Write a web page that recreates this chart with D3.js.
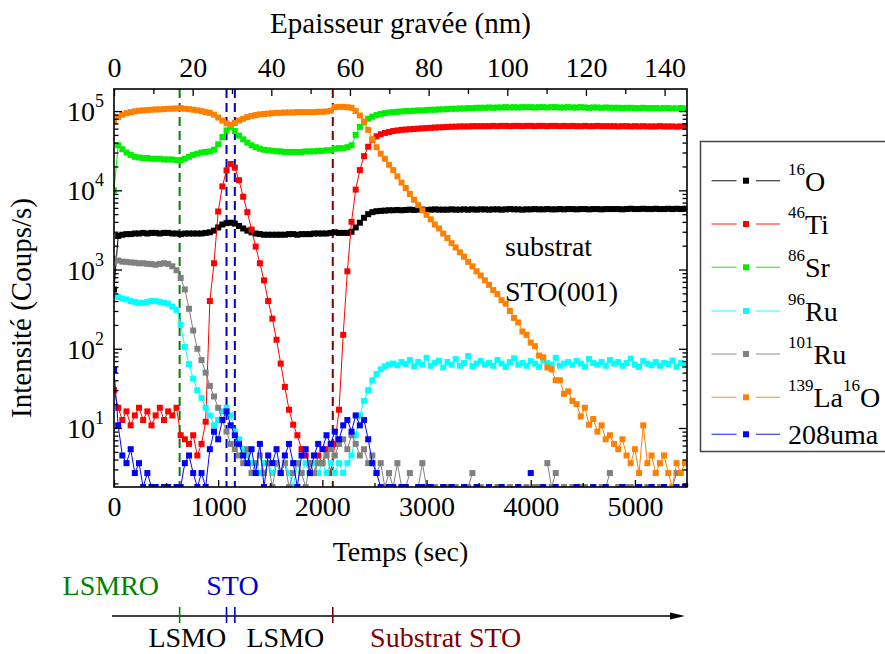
<!DOCTYPE html>
<html><head><meta charset="utf-8">
<script src="https://cdn.jsdelivr.net/npm/d3@7/dist/d3.min.js"></script>
<style>
body{margin:0;background:#fff}
svg text{font-family:"Liberation Serif","Tinos","DejaVu Serif",serif !important;}
</style>
</head><body>
<svg id="chart" width="885" height="654" font-family="Liberation Serif, DejaVu Serif, serif"></svg>
<script>
// ---------- DATA ----------
const timeStart = 0, timeStep = 40;      // s, acquisition interval
const timeMax = 5500;                    // s, right end of the time axis
const depthMax = 145.7;                  // nm, depth at the right end
const boundaryTimes = [630, 1080, 1160, 2100];   // s, interfaces
const boundaryColors = ["#008000", "#0000cc", "#0000cc", "#800000"];

const O16 = [
560,2650,2750,2800,2800,2850,2850,2900,2850,2900,
2900,2850,2900,2900,2850,2850,2800,2850,2850,2850,
2850,2850,2900,2950,3100,3400,3700,3850,3900,3800,
3550,3300,3100,2950,2850,2800,2750,2750,2750,2750,
2750,2750,2800,2800,2750,2800,2800,2800,2850,2850,
2850,2850,2900,2950,2900,2900,2900,3000,3400,3900,
4500,5000,5300,5450,5500,5550,5600,5600,5650,5600,
5650,5700,5650,5700,5700,5650,5700,5750,5700,5700,
5700,5750,5700,5700,5750,5700,5750,5700,5750,5750,
5700,5750,5750,5700,5750,5800,5750,5750,5700,5750,
5750,5800,5750,5750,5800,5750,5750,5800,5750,5800,
5800,5750,5800,5800,5750,5800,5800,5750,5800,5800,
5800,5800,5750,5800,5850,5800,5800,5850,5800,5800,
5850,5800,5800,5850,5800,5850,5800,5850];
const Ti46 = [
30,18,12.6,16.2,10.8,14.4,18,12.6,16.2,10.8,
14.4,18,12.6,16.2,14.4,18,8.1,7.2,6.3,8.1,
4.5,6.3,12,400,1200,5400,11200,17800,21500,19300,
13400,8300,5300,3200,1950,1200,730,400,240,130,
65,33,17,11,8.1,5.4,4.5,3.6,2.7,4.5,
3.6,5.4,2.7,6.3,17,150,950,4000,10200,18000,
27000,35500,43500,48000,51000,53000,54500,56000,57000,58000,
58500,59000,59500,60000,60500,61000,61500,62000,62300,62600,
63000,63500,63500,64000,64000,64000,64500,64500,64500,64500,
64500,65000,64500,65000,65000,64500,65000,65000,64500,65000,
65000,64500,65000,65000,64500,65000,65000,64500,65000,64500,
65000,64500,64500,65000,64500,64500,65000,64500,64500,64500,
64500,64000,64500,64500,64000,64500,64000,64500,64000,64000,
64000,64500,64000,64000,64000,63500,64000,64000];
const Sr86 = [
10000,37000,33000,30000,28000,26500,26000,25500,25500,25000,
25000,25000,24500,24500,24500,24000,24000,25000,26500,28000,
29000,30000,30500,31000,32500,38000,47000,57000,63000,56000,
49000,44000,40000,37000,35000,33500,32500,32000,31500,31000,
31000,30500,30500,30500,30500,30500,31000,31000,31000,31500,
31500,32000,32000,33500,34000,34000,35000,37000,50000,63000,
72000,80000,85000,89000,92000,94000,96000,97000,98000,99000,
100000,100000,101000,102000,102000,103000,104000,104000,105000,105000,
106000,107000,107000,108000,108000,109000,109000,110000,110000,110000,
111000,110000,111000,111000,112000,111000,112000,111000,112000,112000,
112000,111000,112000,112000,111000,112000,112000,111000,111000,112000,
111000,111000,112000,111000,110000,111000,111000,110000,111000,110000,
110000,110000,109000,110000,110000,109000,109000,110000,109000,109000,
109000,108000,109000,109000,108000,108000,109000,108000];
const Ru96 = [
460,450,430,420,400,390,380,380,390,400,
400,390,380,370,340,310,200,105,64,42,
30,24,18,14.4,10.8,12.6,16.2,18,14.4,9,
7.2,5.4,4.5,3.6,3.6,2.7,3.6,3.6,2.7,3.6,
2.7,3.6,2.7,1.8,3.6,2.7,3.6,2.7,3.6,2.7,
3.6,2.7,3.6,2.7,3.6,2.7,3.6,4.5,8.1,14.4,
22,30,40,48,55,60,63,65,62,68,
64,72,60,68,63,77,61,66,70,58,
68,63,74,61,66,81,60,65,70,63,
66,61,72,65,59,68,76,63,66,61,
70,65,59,72,66,63,77,61,65,68,
63,70,65,59,74,66,63,68,61,72,
65,68,61,66,75,63,59,70,65,62,
68,61,66,64,71,59,66,62];
const Ru101 = [
1380,1300,1260,1250,1230,1220,1200,1200,1180,1170,
1150,1180,1200,1180,1100,980,780,560,320,170,
100,72,50,34,25,18,12.6,9,6.3,5.4,
4.5,3.6,5.4,2.7,3.6,4.5,2.7,3.6,1.8,3.6,
2.7,3.6,1.8,2.7,3.6,2.7,1.8,3.6,2.7,3.6,
3.6,4.5,5.4,4.5,6.3,7.2,5.4,8.1,6.3,4.5,
5.4,3.6,4.5,2.7,3.6,1.8,2.7,1.8,3.6,1.8,
1.8,2.7,0,1.8,3.6,1.8,0,1.8,0,1.8,
1.8,0,1.8,0,1.8,1.8,2.7,0,1.8,0,
1.8,0,1.8,1.8,0,1.8,0,1.8,0,1.8,
0,1.8,1.8,0,3.6,1.8,2.7,0,1.8,0,
1.8,0,1.8,1.8,0,1.8,0,1.8,1.8,2.7,
0,1.8,0,1.8,1.8,0,1.8,0,1.8,1.8,
0,1.8,1.8,0,1.8,2.7,0,1.8];
const La139O16 = [
73000,84000,90000,94000,97000,99000,101000,102000,103000,104000,
105000,105000,106000,107000,107000,108000,109000,107000,106000,104000,
102000,100000,97000,95000,90000,83000,76000,70000,67000,71000,
76000,80000,84000,87000,89000,91000,92000,93000,94000,95000,
95000,96000,96000,96000,97000,97000,97000,97000,97000,98000,
98000,99000,101000,112000,113000,113000,112000,110000,100000,88000,
74000,58000,44000,35000,29000,25000,21000,18000,15000,12500,
10700,9000,7600,6500,5600,4900,4300,3700,3300,2850,
2500,2150,1900,1650,1450,1250,1100,950,840,730,
640,550,490,410,370,300,245,215,165,150,
120,108,82,78,58,55,40,40,27,29,
22,20,14,18,11,13,9,10.8,7.2,8.1,
6.3,5.4,7.2,4.5,3.6,5.4,2.7,10.8,3.6,4.5,
2.7,3.6,4.5,2.7,1.8,3.6,2.7,3.6];
const M208 = [
54,10.8,4.5,3.6,5.4,2.7,3.6,1.8,2.7,1.8,
1.8,0,1.8,1.8,0,1.8,1.8,3.6,4.5,2.7,
1.8,2.7,1.8,5.4,9,7.2,12.6,16.2,10.8,8.1,
6.3,4.5,3.6,5.4,2.7,6.3,1.8,4.5,3.6,5.4,
2.7,4.5,6.3,3.6,1.8,4.5,5.4,2.7,4.5,6.3,
5.4,8.1,6.3,9,7.2,10.8,12.6,9,14.4,10.8,
12.6,7.2,3.6,2.7,1.8,0,1.8,1.8,0,1.8,
1.8,0,0,1.8,1.8,0,1.8,0,0,1.8,
0,1.8,0,0,1.8,0,0,1.8,0,0,
1.8,0,0,1.8,0,0,0,1.8,0,0,
2.7,0,0,1.8,0,0,1.8,0,0,0,
0,1.8,0,0,0,1.8,0,0,1.8,0,
0,0,1.8,0,0,0,1.8,0,0,1.8,
0,0,1.8,0,0,1.8,0,1.8];

const seriesValues = [O16, Ti46, Sr86, Ru96, Ru101, La139O16, M208];
const seriesLabels = [
  [["16",1],["O",0]], [["46",1],["Ti",0]], [["86",1],["Sr",0]], [["96",1],["Ru",0]],
  [["101",1],["Ru",0]], [["139",1],["La",0],["16",1],["O",0]], [["208uma",0]]
];
const seriesColors = ["#000000","#ff0000","#00ee00","#00ffff","#808080","#ff8000","#0000ff"];

const timeTicks = [0,1000,2000,3000,4000,5000];
const depthTicks = [0,20,40,60,80,100,120,140];
const decadeTicks = [1e1,1e2,1e3,1e4,1e5];
const decadeExp = ["1","2","3","4","5"];

const FONT = '"Liberation Serif","Tinos","DejaVu Serif",serif';

// ---------- LAYOUT ----------
const L = 114, R = 687, T = 89, B = 487;
const svg = d3.select("#chart");
const x = d3.scaleLinear().domain([0, timeMax]).range([L, R]);
const xd = d3.scaleLinear().domain([0, depthMax]).range([L, R]);
const y = d3.scaleLog().domain([1.8, 1.9e5]).range([B, T]);

svg.append("defs").append("clipPath").attr("id","clip")
  .append("rect").attr("x",L).attr("y",T).attr("width",R-L).attr("height",B-T);

function rich(sel, parts, big, small, rise){
  let cur = 0;
  parts.forEach(([s, sup]) => {
    const t = sup ? -rise : 0;
    sel.append("tspan").attr("dy", t - cur).attr("font-size", sup ? small : big).text(s);
    cur = t;
  });
}

// boundary dashed lines
svg.append("g").selectAll("line").data(boundaryTimes).join("line")
  .attr("x1", d => x(d)).attr("x2", d => x(d)).attr("y1", T).attr("y2", B)
  .attr("stroke", (d,i) => boundaryColors[i]).attr("stroke-width", 2)
  .attr("stroke-dasharray", "9,5");

// data
const plot = svg.append("g").attr("clip-path","url(#clip)");
const ms = 6;
seriesValues.forEach((vals, si) => {
  const pts = vals.map((v,i) => ({t: timeStart + i*timeStep, v}));
  const line = d3.line().defined(d => d.v > 0).x(d => x(d.t)).y(d => y(d.v));
  plot.append("path").attr("d", line(pts)).attr("fill","none")
    .attr("stroke", seriesColors[si]).attr("stroke-width", 1);
  plot.append("g").selectAll("rect").data(pts.filter(d => d.v > 0)).join("rect")
    .attr("x", d => x(d.t) - ms/2).attr("y", d => y(d.v) - ms/2)
    .attr("width", ms).attr("height", ms).attr("fill", seriesColors[si]);
});

// axes
function styleAxis(g){ g.attr("font-family", FONT); g.select(".domain").remove(); g.selectAll("line").attr("stroke","#000").attr("stroke-width",1.3);
  g.selectAll("text").attr("font-size",28).attr("fill","#000"); }

svg.append("g").attr("transform",`translate(0,${B})`)
  .call(d3.axisBottom(x).tickValues(timeTicks).tickSizeInner(-7).tickSizeOuter(0).tickPadding(9).tickFormat(d3.format("d"))).call(styleAxis);
svg.append("g").attr("transform",`translate(0,${B})`)
  .call(d3.axisBottom(x).tickValues(timeTicks.map(d => d + 500)).tickSizeInner(-4).tickSizeOuter(0).tickFormat("")).call(styleAxis);
svg.append("g").attr("transform",`translate(0,${T})`)
  .call(d3.axisTop(xd).tickValues(depthTicks).tickSizeInner(-7).tickSizeOuter(0).tickPadding(12).tickFormat(d3.format("d"))).call(styleAxis);
svg.append("g").attr("transform",`translate(0,${T})`)
  .call(d3.axisTop(xd).tickValues(depthTicks.map(d => d + 10).filter(d => d < depthMax)).tickSizeInner(-5).tickSizeOuter(0).tickFormat("")).call(styleAxis);

const minorY = [];
[1,10,100,1000,10000,100000].forEach(dec => { for (let k=2;k<=9;k++){ const v=k*dec; if (v>=1.8 && v<=1.9e5) minorY.push(v);} });
[[L, d3.axisLeft],[R, d3.axisRight]].forEach(([px, ax]) => {
  svg.append("g").attr("transform",`translate(${px},0)`)
    .call(ax(y).tickValues(decadeTicks).tickSizeInner(-8).tickSizeOuter(0).tickFormat("")).call(styleAxis);
  svg.append("g").attr("transform",`translate(${px},0)`)
    .call(ax(y).tickValues(minorY).tickSizeInner(-4.5).tickSizeOuter(0).tickFormat("")).call(styleAxis);
});
// y tick labels with exponents
decadeTicks.forEach((d,i) => {
  const t = svg.append("text").attr("x", 104).attr("y", y(d) + 10).attr("text-anchor","end").attr("fill","#000");
  rich(t, [["10",0],[decadeExp[i],1]], 28, 18, 14);
});

// frame
svg.append("rect").attr("x",L).attr("y",T).attr("width",R-L).attr("height",B-T)
  .attr("fill","none").attr("stroke","#000").attr("stroke-width",1.6);

// titles
svg.append("text").attr("x",(L+R)/2).attr("y",33).attr("text-anchor","middle").attr("font-size",29).text("Epaisseur gravée (nm)");
svg.append("text").attr("x",(L+R)/2).attr("y",561).attr("text-anchor","middle").attr("font-size",28).text("Temps (sec)");
svg.append("text").attr("transform","translate(31,308) rotate(-90)").attr("text-anchor","middle").attr("font-size",29).text("Intensité (Coups/s)");

svg.append("text").attr("x",505).attr("y",256).attr("font-size",28).text("substrat");
svg.append("text").attr("x",505).attr("y",301).attr("font-size",28).text("STO(001)");

// legend
const legY = [180.7, 224, 267.3, 311, 354, 397.3, 434.3];
svg.append("rect").attr("x",700.5).attr("y",141.5).attr("width",220).attr("height",310)
  .attr("fill","#fff").attr("stroke","#444").attr("stroke-width",1.5);
seriesLabels.forEach((parts, i) => {
  const g = svg.append("g");
  const c = seriesColors[i];
  g.append("line").attr("x1",711.5).attr("x2",736.5).attr("y1",legY[i]).attr("y2",legY[i]).attr("stroke",c).attr("stroke-width",1.3).attr("opacity",0.7);
  g.append("line").attr("x1",756).attr("x2",780).attr("y1",legY[i]).attr("y2",legY[i]).attr("stroke",c).attr("stroke-width",1.3).attr("opacity",0.7);
  g.append("rect").attr("x",746-3).attr("y",legY[i]-3).attr("width",6).attr("height",6).attr("fill",c);
  const t = g.append("text").attr("x",788).attr("y",legY[i] + 10).attr("fill","#000");
  rich(t, parts, 28, 17, 16);
});

// bottom timeline
const tl = svg.append("g");
tl.append("line").attr("x1",112).attr("x2",675).attr("y1",616).attr("y2",616).attr("stroke","#000").attr("stroke-width",1.5);
tl.append("path").attr("d","M670,612.5 L685,616 L670,619.5 Z").attr("fill","#000");
tl.selectAll("line.b").data(boundaryTimes).join("line").attr("class","b")
  .attr("x1", d => x(d)).attr("x2", d => x(d)).attr("y1",607).attr("y2",623)
  .attr("stroke",(d,i) => boundaryColors[i]).attr("stroke-width",1.6);
[["LSMRO",110.8,"#008000"],["STO",232.5,"#0000cc"]].forEach(([s,cx,c]) =>
  tl.append("text").attr("x",cx).attr("y",595).attr("text-anchor","middle").attr("font-size",28).attr("fill",c).text(s));
[["LSMO",187.3,"#000000"],["LSMO",285.4,"#000000"],["Substrat STO",445.7,"#800000"]].forEach(([s,cx,c]) =>
  tl.append("text").attr("x",cx).attr("y",647).attr("text-anchor","middle").attr("font-size",28).attr("fill",c).text(s));
</script>
</body></html>
